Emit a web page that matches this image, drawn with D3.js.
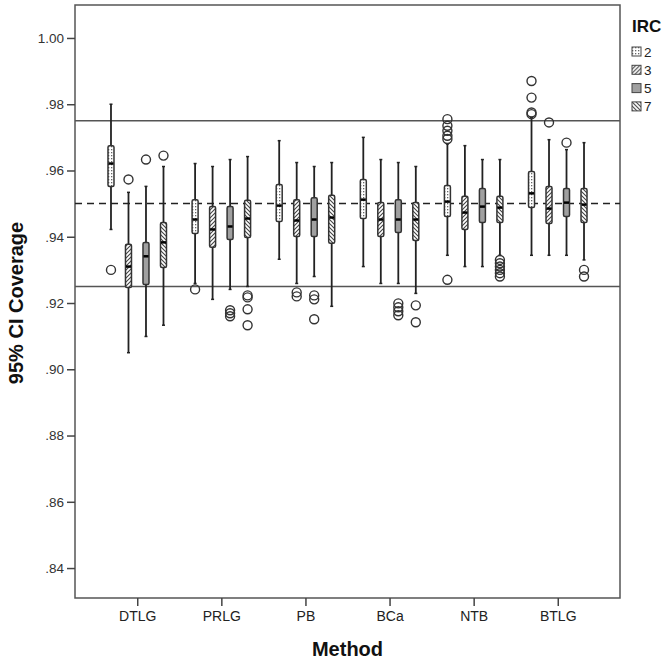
<!DOCTYPE html>
<html>
<head>
<meta charset="utf-8">
<script src="https://cdn.jsdelivr.net/npm/d3@7"></script>
<style>
  body { margin: 0; background: #fff; }
  text { font-family: "Liberation Sans", Arial, sans-serif; }
</style>
</head>
<body>
<div id="chart"></div>
<script>
// categories
var methods = ["DTLG", "PRLG", "PB", "BCa", "NTB", "BTLG"];
var ircLevels = ["2", "3", "5", "7"];
var yTicks = [0.84, 0.86, 0.88, 0.90, 0.92, 0.94, 0.96, 0.98, 1.00];

// box stats per method: [lower whisker, q1, median, q3, upper whisker]
var irc2Stats = [
  [0.9422, 0.9552, 0.9621, 0.9675, 0.980],
  [0.9259, 0.9410, 0.9452, 0.9512, 0.9621],
  [0.9332, 0.9446, 0.9494, 0.9558, 0.969],
  [0.931, 0.9455, 0.9512, 0.9573, 0.970],
  [0.9344, 0.9461, 0.9506, 0.9555, 0.968],
  [0.9344, 0.9488, 0.9531, 0.9597, 0.976]
];
var irc3Stats = [
  [0.905, 0.9247, 0.931, 0.9377, 0.9534],
  [0.9211, 0.9368, 0.9422, 0.9491, 0.9612],
  [0.9259, 0.9401, 0.9449, 0.9512, 0.9624],
  [0.9259, 0.9401, 0.9452, 0.9503, 0.9633],
  [0.931, 0.9422, 0.9473, 0.9522, 0.9675],
  [0.9344, 0.944, 0.9485, 0.9552, 0.9693]
];
var irc5Stats = [
  [0.9099, 0.9256, 0.9341, 0.9383, 0.9552],
  [0.9241, 0.9392, 0.9431, 0.9491, 0.9633],
  [0.928, 0.9401, 0.9452, 0.9518, 0.9612],
  [0.9259, 0.9413, 0.9452, 0.9512, 0.9624],
  [0.931, 0.9443, 0.9491, 0.9546, 0.9633],
  [0.9344, 0.9461, 0.9503, 0.9546, 0.9663]
];
var irc7Stats = [
  [0.9133, 0.9307, 0.9383, 0.9443, 0.9612],
  [0.925, 0.9398, 0.9455, 0.951, 0.9642],
  [0.919, 0.938, 0.9458, 0.9525, 0.9624],
  [0.9229, 0.9389, 0.9452, 0.9503, 0.9612],
  [0.9344, 0.9443, 0.9488, 0.9522, 0.9633],
  [0.933, 0.9443, 0.9497, 0.9546, 0.9684]
];

// outliers per method
var irc2Outliers = [[0.930], [0.9241], [], [], [0.9755, 0.9735, 0.972, 0.9705, 0.9695, 0.927], [0.987, 0.982, 0.9775, 0.977]];
var irc3Outliers = [[0.9573], [], [0.9232, 0.922], [], [], [0.9745]];
var irc5Outliers = [[0.9633], [0.9178, 0.9169, 0.916], [0.9223, 0.9211, 0.9151], [0.9199, 0.9187, 0.9175, 0.9163], [], [0.9684]];
var irc7Outliers = [[0.9645], [0.9223, 0.9217, 0.9181, 0.9133], [], [0.9193, 0.9142], [0.933, 0.932, 0.931, 0.930, 0.929, 0.928], [0.930, 0.928]];

// reference lines
var refLines = [0.975, 0.95, 0.925];

var allStats = [irc2Stats, irc3Stats, irc5Stats, irc7Stats];
var allOutliers = [irc2Outliers, irc3Outliers, irc5Outliers, irc7Outliers];

var margin = { top: 5, right: 43, bottom: 64, left: 75 },
    width = 663 - margin.left - margin.right,
    height = 662 - margin.top - margin.bottom;

var svg = d3.select("#chart")
    .append("svg")
    .attr("width", 663)
    .attr("height", 662);

// patterns for the IRC fills
var defs = svg.append("defs");
var dots = defs.append("pattern").attr("id", "pat2")
    .attr("patternUnits", "userSpaceOnUse").attr("width", 3).attr("height", 3);
dots.append("rect").attr("width", 3).attr("height", 3).attr("fill", "#fff");
dots.append("rect").attr("x", 0).attr("y", 0).attr("width", 1.3).attr("height", 1.3).attr("fill", "#666");

function hatch(id, back) {
    var p = defs.append("pattern").attr("id", id)
        .attr("patternUnits", "userSpaceOnUse").attr("width", 4).attr("height", 4);
    p.append("rect").attr("width", 4).attr("height", 4).attr("fill", "#fff");
    if (back) {
        p.append("path").attr("d", "M-1,-1 L5,5 M-1,3 L1,5 M3,-1 L5,1")
            .attr("stroke", "#444").attr("stroke-width", 1.1);
    } else {
        p.append("path").attr("d", "M-1,5 L5,-1 M-1,1 L1,-1 M3,5 L5,3")
            .attr("stroke", "#444").attr("stroke-width", 1.1);
    }
}
hatch("pat3", false);
hatch("pat7", true);
var fills = ["url(#pat2)", "url(#pat3)", "#a0a0a0", "url(#pat7)"];

var g = svg.append("g")
    .attr("transform", "translate(" + margin.left + "," + margin.top + ")");

var x = d3.scalePoint()
    .domain(methods)
    .range([0, width])
    .padding(0.74);

var xi = d3.scaleBand()
    .domain(ircLevels)
    .range([-35, 35]);

var y = d3.scaleLinear()
    .domain([0.83096, 1.00995])
    .range([height, 0]);

// frame
g.append("rect")
    .attr("width", width)
    .attr("height", height)
    .attr("fill", "none")
    .attr("stroke", "#555")
    .attr("stroke-width", 1.5);

// y axis
var yAxis = g.append("g")
    .call(d3.axisLeft(y).tickValues(yTicks).tickSize(8)
        .tickFormat(function (d) { return d >= 1 ? "1.00" : d3.format(".2f")(d).replace(/^0/, ""); }));
yAxis.select(".domain").remove();
yAxis.selectAll("line").attr("stroke", "#444").attr("stroke-width", 1.5);
yAxis.selectAll("text").attr("font-size", 13.5).attr("fill", "#333")
    .attr("font-family", "Liberation Sans, Arial, sans-serif").attr("x", -11);

// x axis
var xAxis = g.append("g")
    .attr("transform", "translate(0," + height + ")")
    .call(d3.axisBottom(x).tickSize(8));
xAxis.select(".domain").remove();
xAxis.selectAll("line").attr("stroke", "#444").attr("stroke-width", 1.5);
xAxis.selectAll("text").attr("font-size", 14).attr("fill", "#222")
    .attr("font-family", "Liberation Sans, Arial, sans-serif").attr("y", 13);

// reference lines
g.selectAll(".ref")
    .data(refLines)
    .enter().append("line")
    .attr("x1", 0).attr("x2", width)
    .attr("y1", function (d) { return y(d); })
    .attr("y2", function (d) { return y(d); })
    .attr("stroke", function (d) { return d === 0.95 ? "#222" : "#555"; })
    .attr("stroke-width", 1.5)
    .attr("stroke-dasharray", function (d) { return d === 0.95 ? "7,5" : null; });

// boxes
var boxW = 6;
ircLevels.forEach(function (lvl, k) {
    var stats = allStats[k];
    var outs = allOutliers[k];
    methods.forEach(function (m, i) {
        var s = stats[i];
        var cx = x(m) + xi(lvl) + xi.bandwidth() / 2;
        var bg = g.append("g");
        // whisker
        bg.append("line")
            .attr("x1", cx).attr("x2", cx)
            .attr("y1", y(s[0])).attr("y2", y(s[4]))
            .attr("stroke", "#222").attr("stroke-width", 1.8);
        bg.selectAll(".cap")
            .data([s[0], s[4]])
            .enter().append("line")
            .attr("x1", cx - 1.5).attr("x2", cx + 1.5)
            .attr("y1", function (d) { return y(d); })
            .attr("y2", function (d) { return y(d); })
            .attr("stroke", "#222").attr("stroke-width", 1.5);
        // box
        bg.append("rect")
            .attr("x", cx - boxW / 2)
            .attr("y", y(s[3]))
            .attr("width", boxW)
            .attr("height", y(s[1]) - y(s[3]))
            .attr("rx", 1.5)
            .attr("fill", fills[k])
            .attr("stroke", "#333")
            .attr("stroke-width", 1.5);
        // median
        bg.append("line")
            .attr("x1", cx - boxW / 2 + 0.5).attr("x2", cx + boxW / 2 - 0.5)
            .attr("y1", y(s[2])).attr("y2", y(s[2]))
            .attr("stroke", "#000").attr("stroke-width", 2.5);
        // outliers
        bg.selectAll("circle")
            .data(outs[i])
            .enter().append("circle")
            .attr("cx", cx)
            .attr("cy", function (d) { return y(d); })
            .attr("r", 4.5)
            .attr("fill", "none")
            .attr("stroke", "#333")
            .attr("stroke-width", 1.4);
    });
});

// axis titles
svg.append("text")
    .attr("transform", "translate(23," + (margin.top + y(0.92)) + ") rotate(-90)")
    .attr("text-anchor", "middle")
    .attr("font-size", 20)
    .attr("font-weight", "bold")
    .attr("fill", "#111")
    .text("95% CI Coverage");

svg.append("text")
    .attr("x", margin.left + width / 2)
    .attr("y", 656)
    .attr("text-anchor", "middle")
    .attr("font-size", 20)
    .attr("font-weight", "bold")
    .attr("fill", "#111")
    .text("Method");

// legend
var legend = svg.append("g").attr("transform", "translate(632,0)");
legend.append("text")
    .attr("x", 0).attr("y", 32)
    .attr("font-size", 17)
    .attr("font-weight", "bold")
    .attr("fill", "#111")
    .text("IRC");
var li = legend.selectAll(".item")
    .data(ircLevels)
    .enter().append("g")
    .attr("transform", function (d, i) { return "translate(0," + (47 + i * 18.3) + ")"; });
li.append("rect")
    .attr("width", 9).attr("height", 9)
    .attr("fill", function (d, i) { return fills[i]; })
    .attr("stroke", "#444").attr("stroke-width", 1);
li.append("text")
    .attr("x", 12).attr("y", 9.5)
    .attr("font-size", 13.5)
    .attr("fill", "#222")
    .text(function (d) { return d; });
</script>
</body>
</html>
